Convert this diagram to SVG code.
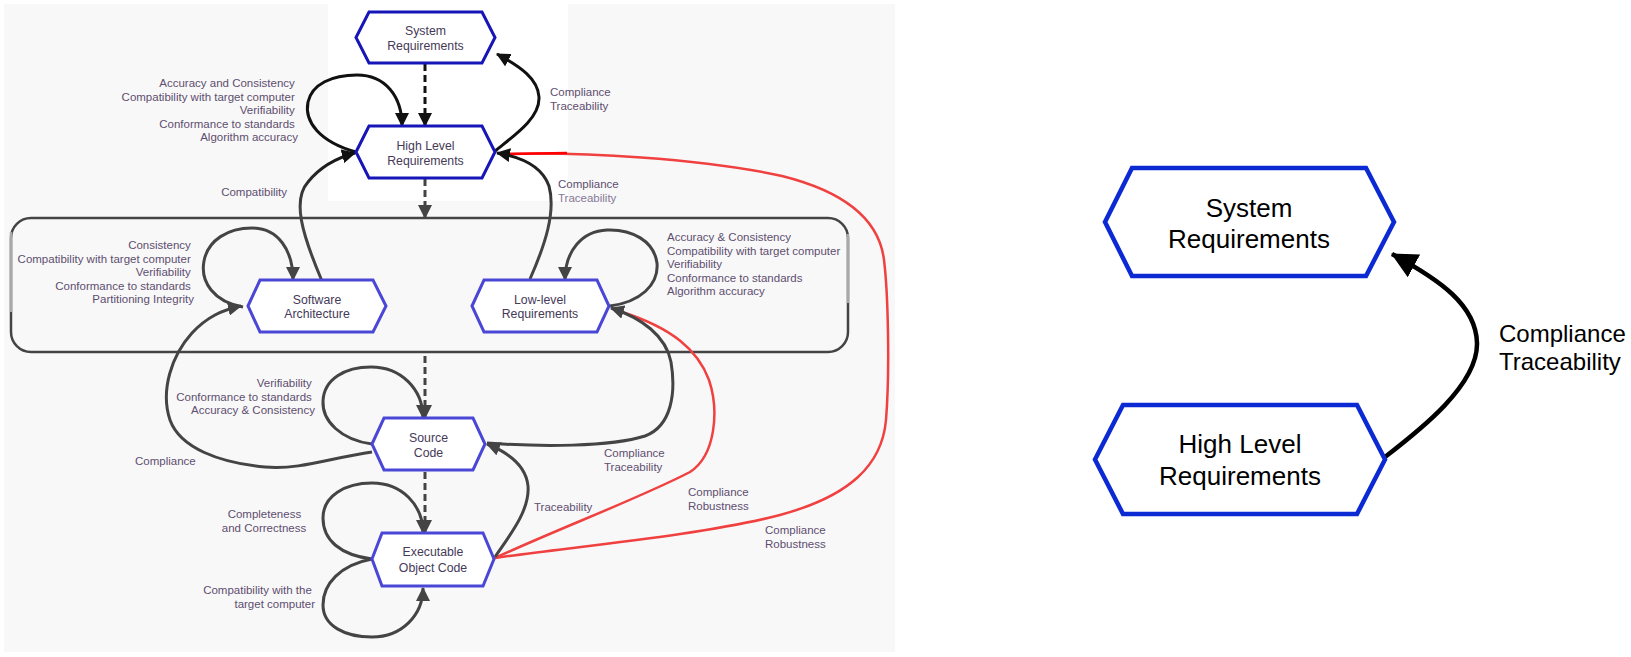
<svg xmlns="http://www.w3.org/2000/svg" width="1631" height="657" viewBox="0 0 1631 657">
  <style>
    .hexA { fill: #ffffff; stroke: #1616b8; stroke-width: 3; }
    .hexB { fill: #ffffff; stroke: #4a47d6; stroke-width: 3; }
    .hexR { fill: #ffffff; stroke: #0c2ad4; stroke-width: 4.5; }
    .ntx { font-family: "Liberation Sans", Arial, sans-serif; font-size: 12.3px; fill: #463a58; text-anchor: middle; }
    .lbl { font-family: "Liberation Sans", Arial, sans-serif; font-size: 11.5px; fill: #5e4e70; }
    .rtx { font-family: "Liberation Sans", Arial, sans-serif; font-size: 26px; fill: #000000; text-anchor: middle; }
    .rlb { font-family: "Liberation Sans", Arial, sans-serif; font-size: 24px; fill: #000000; }
    .cg { fill: none; stroke: #444444; stroke-width: 3; }
    .ck { fill: none; stroke: #111111; stroke-width: 3; }
    .cr { fill: none; stroke: #f04040; stroke-width: 2.5; }
    .dash { stroke-dasharray: 7 4; }
  </style>
  <defs>
    <marker id="ah" viewBox="0 0 14 14" refX="13" refY="7" markerWidth="14" markerHeight="14" markerUnits="userSpaceOnUse" orient="auto">
      <path d="M0,0 L14,7 L0,14 z" fill="#444444"/>
    </marker>
    <marker id="ahk" viewBox="0 0 14 14" refX="13" refY="7" markerWidth="14" markerHeight="14" markerUnits="userSpaceOnUse" orient="auto">
      <path d="M0,0 L14,7 L0,14 z" fill="#111111"/>
    </marker>
    <marker id="ahBig" viewBox="0 0 26 26" refX="25" refY="13" markerWidth="26" markerHeight="26" markerUnits="userSpaceOnUse" orient="auto">
      <path d="M0,0 L26,13 L0,26 z" fill="#000000"/>
    </marker>
    <linearGradient id="upDark1" gradientUnits="userSpaceOnUse" x1="0" y1="282" x2="0" y2="150">
      <stop offset="0" stop-color="#444444"/>
      <stop offset="0.55" stop-color="#444444"/>
      <stop offset="1" stop-color="#111111"/>
    </linearGradient>
  </defs>

  <!-- backdrop panels -->
  <rect x="0" y="0" width="1631" height="657" fill="#ffffff"/>
  <rect x="4" y="4" width="891" height="648" fill="#f8f8f8"/>
  <rect x="328" y="0" width="240" height="201" fill="#ffffff"/>

  <!-- software design container -->
  <g id="design-group">
    <rect x="11" y="218" width="837" height="134" rx="20" ry="20" fill="none" stroke="#444444" stroke-width="2.5"/>
    <line x1="11" y1="232" x2="11" y2="312" stroke="#a8a8a8" stroke-width="2.5"/>
    <line x1="848" y1="234" x2="848" y2="303" stroke="#a8a8a8" stroke-width="2.5"/>
  </g>

  <!-- connectors -->
  <g id="connectors">
    <!-- vertical dashed flow -->
    <path class="ck dash" d="M425,64 L425,126" marker-end="url(#ahk)"/>
    <path class="cg dash" d="M425,179 L425,218" marker-end="url(#ah)"/>
    <path class="cg dash" d="M425,356 L425,418" marker-end="url(#ah)"/>
    <path class="cg dash" d="M425,472 L425,533" marker-end="url(#ah)"/>

    <!-- high level requirements -->
    <path class="ck" d="M356,152 C320,142 304,122 308,102 C312,84 332,75 357,75 C385,75 402,96 402,126" marker-end="url(#ahk)"/>
    <path class="ck" d="M495,151 C515,135 540,118 539,97 C538,79 521,67 497,54" marker-end="url(#ahk)"/>

    <!-- red robustness links -->
    <path class="cr" d="M495,558 C560,548 700,536 780,515 C850,496 882,465 886,420 C890,370 888,292 884,260 C879,218 842,191 782,176 C700,158 580,152 507,154"/>
    <path d="M507,154 L567,153" fill="none" stroke="#ff0000" stroke-width="2.5"/>
    <path class="cr" d="M495,558 C560,528 640,498 690,472 C716,455 719,410 709,380 C698,350 672,328 622,312"/>

    <!-- software architecture -->
    <path class="cg" d="M243,307 C214,302 200,282 204,261 C208,240 228,228 252,228 C278,228 293,250 293,280" marker-end="url(#ah)"/>
    <path d="M322,281 C302,234 292,200 308,182 C320,167 336,158 355,153" fill="none" stroke="url(#upDark1)" stroke-width="3" marker-end="url(#ahk)"/>
    <path class="cg" d="M372,452 C330,458 300,470 265,467 C220,463 180,448 170,420 C160,390 172,355 192,333 C207,317 222,310 241,306" marker-end="url(#ah)"/>

    <!-- low-level requirements -->
    <path class="cg" d="M610,306 C640,302 659,285 657,263 C654,241 632,229 607,230 C582,231 565,251 565,280" marker-end="url(#ah)"/>
    <path d="M530,279 C545,245 556,212 549,186 C542,166 522,157 497,153" fill="none" stroke="url(#upDark1)" stroke-width="3" marker-end="url(#ahk)"/>

    <!-- source code -->
    <path class="cg" d="M372,444 C341,440 322,421 323,401 C324,379 345,367 371,367 C401,367 423,389 423,418" marker-end="url(#ah)"/>
    <path class="cg" d="M487,443 C540,447 610,447 645,436 C672,426 676,392 671,362 C666,336 642,318 611,308" marker-end="url(#ah)"/>

    <!-- executable object code -->
    <path class="cg" d="M372,559 C340,555 323,540 323,518 C323,496 345,483 372,483 C402,483 423,505 423,533" marker-end="url(#ah)"/>
    <path class="cg" d="M372,559 C340,565 323,584 323,605 C323,626 345,637 372,637 C402,637 423,615 423,588" marker-end="url(#ah)"/>
    <path class="cg" d="M495,557 C510,535 530,510 528,486 C526,465 507,452 487,444" marker-end="url(#ah)"/>

    <!-- enlarged detail -->
    <path d="M1385,457 C1420,430 1478,385 1477,343 C1476,305 1440,280 1392,254" fill="none" stroke="#000000" stroke-width="4.5" marker-end="url(#ahBig)"/>
  </g>

  <!-- connector labels -->
  <g id="labels">
    <text class="lbl" text-anchor="end">
      <tspan x="298" y="87">Accuracy and Consistency</tspan>
      <tspan x="298" y="100.5">Compatibility with target computer</tspan>
      <tspan x="298" y="114">Verifiability</tspan>
      <tspan x="298" y="127.5">Conformance to standards</tspan>
      <tspan x="298" y="141">Algorithm accuracy</tspan>
    </text>
    <text class="lbl" x="287" y="196" text-anchor="end">Compatibility</text>
    <text class="lbl">
      <tspan x="550" y="96">Compliance</tspan>
      <tspan x="550" y="109.5">Traceability</tspan>
    </text>
    <text class="lbl">
      <tspan x="558" y="188">Compliance</tspan>
      <tspan x="558" y="201.5" fill="#867896">Traceability</tspan>
    </text>
    <text class="lbl" text-anchor="end">
      <tspan x="194" y="249">Consistency</tspan>
      <tspan x="194" y="262.5">Compatibility with target computer</tspan>
      <tspan x="194" y="276">Verifiability</tspan>
      <tspan x="194" y="289.5">Conformance to standards</tspan>
      <tspan x="194" y="303">Partitioning Integrity</tspan>
    </text>
    <text class="lbl">
      <tspan x="667" y="241">Accuracy &amp; Consistency</tspan>
      <tspan x="667" y="254.5">Compatibility with target computer</tspan>
      <tspan x="667" y="268">Verifiability</tspan>
      <tspan x="667" y="281.5">Conformance to standards</tspan>
      <tspan x="667" y="295">Algorithm accuracy</tspan>
    </text>
    <text class="lbl" text-anchor="end">
      <tspan x="315" y="387">Verifiability</tspan>
      <tspan x="315" y="400.5">Conformance to standards</tspan>
      <tspan x="315" y="414">Accuracy &amp; Consistency</tspan>
    </text>
    <text class="lbl" x="135" y="465">Compliance</text>
    <text class="lbl" text-anchor="middle">
      <tspan x="266" y="518">Completeness</tspan>
      <tspan x="264" y="531.5">and Correctness</tspan>
    </text>
    <text class="lbl" text-anchor="end">
      <tspan x="315" y="594">Compatibility with the</tspan>
      <tspan x="315" y="607.5">target computer</tspan>
    </text>
    <text class="lbl">
      <tspan x="604" y="457">Compliance</tspan>
      <tspan x="604" y="470.5">Traceability</tspan>
    </text>
    <text class="lbl" x="534" y="511">Traceability</text>
    <text class="lbl">
      <tspan x="688" y="496">Compliance</tspan>
      <tspan x="688" y="509.5">Robustness</tspan>
    </text>
    <text class="lbl">
      <tspan x="765" y="534">Compliance</tspan>
      <tspan x="765" y="547.5">Robustness</tspan>
    </text>
    <text class="rlb">
      <tspan x="1499" y="342">Compliance</tspan>
      <tspan x="1499" y="369.5">Traceability</tspan>
    </text>
  </g>

  <!-- nodes -->
  <g id="system-requirements">
    <polygon class="hexA" points="356,37.5 369,12 482,12 495,37.5 482,63 369,63"/>
    <text class="ntx"><tspan x="425.5" y="35">System</tspan><tspan x="425.5" y="50">Requirements</tspan></text>
  </g>
  <g id="high-level-requirements">
    <polygon class="hexA" points="356,152 369,126 482,126 495,152 482,178 369,178"/>
    <text class="ntx"><tspan x="425.5" y="149.5">High Level</tspan><tspan x="425.5" y="164.5">Requirements</tspan></text>
  </g>
  <g id="software-architecture">
    <polygon class="hexB" points="248,306 260,280 373,280 386,306 373,332 260,332"/>
    <text class="ntx"><tspan x="317" y="303.5">Software</tspan><tspan x="317" y="318">Architecture</tspan></text>
  </g>
  <g id="low-level-requirements">
    <polygon class="hexB" points="472,306 484,280 597,280 609,306 597,332 484,332"/>
    <text class="ntx"><tspan x="540" y="303.5">Low-level</tspan><tspan x="540" y="318">Requirements</tspan></text>
  </g>
  <g id="source-code">
    <polygon class="hexB" points="372,444 384,418 473,418 485,444 473,470 384,470"/>
    <text class="ntx"><tspan x="428.5" y="442">Source</tspan><tspan x="428.5" y="457">Code</tspan></text>
  </g>
  <g id="executable-object-code">
    <polygon class="hexB" points="372,559 382,533 483,533 494,559 483,586 382,586"/>
    <text class="ntx"><tspan x="433" y="556">Executable</tspan><tspan x="433" y="571.5">Object Code</tspan></text>
  </g>
  <g id="system-requirements-large">
    <polygon class="hexR" points="1105,222 1132,168 1366,168 1394,222 1366,276 1132,276"/>
    <text class="rtx"><tspan x="1249" y="217">System</tspan><tspan x="1249" y="248">Requirements</tspan></text>
  </g>
  <g id="high-level-requirements-large">
    <polygon class="hexR" points="1095,459.5 1123,405 1357,405 1385,459.5 1357,514 1123,514"/>
    <text class="rtx"><tspan x="1240" y="453">High Level</tspan><tspan x="1240" y="485">Requirements</tspan></text>
  </g>
</svg>
